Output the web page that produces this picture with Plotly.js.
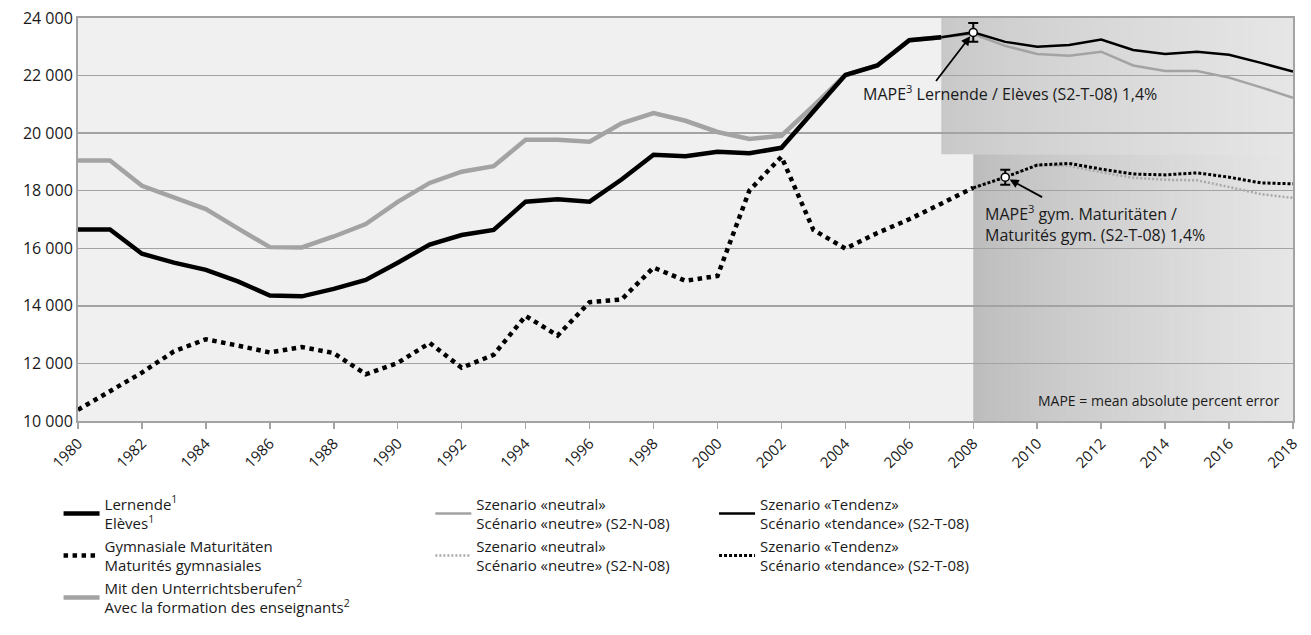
<!DOCTYPE html>
<html>
<head>
<meta charset="utf-8">
<script src="https://cdn.plot.ly/plotly-3.0.1.min.js"></script>
<style>body{margin:0;background:#fff}#chart{width:1311px;height:635px}</style>
</head>
<body>
<div id="chart"></div>
<script>
// ---- data ----
const yearsHist = [1980,1981,1982,1983,1984,1985,1986,1987,1988,1989,1990,1991,1992,1993,1994,1995,1996,1997,1998,1999,2000,2001,2002,2003,2004,2005,2006,2007];
const lernende = [16650,16650,15810,15500,15250,14850,14360,14330,14590,14900,15500,16130,16460,16640,17620,17700,17620,18390,19250,19200,19350,19300,19490,20770,22020,22350,23230,23330];
const mitUnterricht = [19050,19050,18170,17750,17360,16690,16040,16030,16410,16840,17610,18270,18660,18850,19770,19770,19700,20340,20700,20430,20040,19800,19910,20950,22020,22350,23230,23330];
const yearsMat = [1980,1981,1982,1983,1984,1985,1986,1987,1988,1989,1990,1991,1992,1993,1994,1995,1996,1997,1998,1999,2000,2001,2002,2003,2004,2005,2006,2007,2008];
const maturitaeten = [10390,11050,11680,12420,12840,12620,12380,12570,12360,11620,12020,12710,11850,12300,13650,12970,14130,14220,15330,14870,15040,18010,19180,16640,15990,16530,17010,17550,18100];
const yearsScenL = [2007,2008,2009,2010,2011,2012,2013,2014,2015,2016,2017,2018];
const lernNeutral = [23330,23440,23030,22750,22690,22830,22350,22160,22160,21930,21590,21230];
const lernTendenz = [23330,23500,23170,23000,23060,23250,22890,22750,22830,22720,22440,22140];
const yearsScenM = [2008,2009,2010,2011,2012,2013,2014,2015,2016,2017,2018];
const matNeutral = [18100,18470,18890,18870,18640,18450,18380,18360,18130,17880,17750];
const matTendenz = [18100,18470,18890,18950,18750,18580,18550,18620,18470,18270,18240];
const mapeYears = [2008, 2009];
const mapeValues = [23500, 18470];
const mapePercent = 1.4;
const xTicks = [1980,1982,1984,1986,1988,1990,1992,1994,1996,1998,2000,2002,2004,2006,2008,2010,2012,2014,2016,2018];
const yTicks = [10000,12000,14000,16000,18000,20000,22000,24000];

const FONT = '"Open Sans", "DejaVu Sans", sans-serif';

const traces = [
  {x: yearsHist, y: mitUnterricht, type:'scatter', mode:'lines', name:'Mit den Unterrichtsberufen<sup>2</sup><br>Avec la formation des enseignants<sup>2</sup>',
   line:{color:'#a3a3a3', width:4.5}, legend:'legend', legendrank:3},
  {x: yearsHist, y: lernende, type:'scatter', mode:'lines', name:'Lernende<sup>1</sup><br>Elèves<sup>1</sup>',
   line:{color:'#000', width:4.5}, legend:'legend', legendrank:1},
  {x: yearsMat, y: maturitaeten, type:'scatter', mode:'lines', name:'Gymnasiale Maturitäten<br>Maturités gymnasiales',
   line:{color:'#000', width:4.5, dash:'dot'}, legend:'legend', legendrank:2},
  {x: yearsScenL, y: lernNeutral, type:'scatter', mode:'lines', name:'Szenario «neutral»<br>Scénario «neutre» (S2-N-08)',
   line:{color:'#a3a3a3', width:2.5}, legend:'legend2', legendrank:1},
  {x: yearsScenM, y: matNeutral, type:'scatter', mode:'lines', name:'Szenario «neutral»<br>Scénario «neutre» (S2-N-08)',
   line:{color:'#a8a8a8', width:2.5, dash:'2px,2px'}, legend:'legend2', legendrank:2},
  {x: yearsScenL, y: lernTendenz, type:'scatter', mode:'lines', name:'Szenario «Tendenz»<br>Scénario «tendance» (S2-T-08)',
   line:{color:'#000', width:2.5}, legend:'legend3', legendrank:1},
  {x: yearsScenM, y: matTendenz, type:'scatter', mode:'lines', name:'Szenario «Tendenz»<br>Scénario «tendance» (S2-T-08)',
   line:{color:'#000', width:3, dash:'3px,2px'}, legend:'legend3', legendrank:2},
  {x: mapeYears, y: mapeValues, type:'scatter', mode:'markers', showlegend:false,
   marker:{color:'#fff', size:8, line:{color:'#000', width:1.5}},
   error_y:{type:'percent', value:mapePercent, color:'#000', thickness:2, width:5}}
];

// gradient shading via thin stripes below gridlines
function hexToRgb(h){h=h.replace('#','');return [0,2,4].map(i=>parseInt(h.substr(i,2),16));}
function stripes(x0,x1,y0,y1,c0,c1,n){
  const a=hexToRgb(c0), b=hexToRgb(c1), out=[];
  for(let i=0;i<n;i++){
    const t=i/(n-1);
    const c=a.map((v,k)=>Math.round(v+(b[k]-v)*Math.pow(t,0.8)));
    const xa=x0+(x1-x0)*i/n, xb=x0+(x1-x0)*(i+1)/n+0.02;
    out.push({type:'rect', layer:'below', xref:'x', yref:'y', x0:xa, x1:Math.min(xb,x1), y0:y0, y1:y1,
      fillcolor:`rgb(${c[0]},${c[1]},${c[2]})`, line:{width:0}});
  }
  return out;
}
const shapes = [].concat(
  stripes(2007, 2018, 19270, 24000, '#c8c8c8', '#e6e6e6', 90),
  stripes(2008, 2018, 10000, 19270, '#bcbcbc', '#e6e6e6', 90)
);

const legendBase = {y:-0.165, xanchor:'left', yanchor:'top', orientation:'v', bgcolor:'rgba(0,0,0,0)',
  font:{size:15, family:FONT}, itemwidth:36};

const layout = {
  width:1311, height:635,
  margin:{l:78, r:18, t:18, b:208},
  paper_bgcolor:'#fff', plot_bgcolor:'#eff0ef',
  font:{family:FONT, size:15, color:'#1a1a1a'},
  separators:', ',
  showlegend:true,
  xaxis:{range:[1980,2018], tickvals:xTicks, ticktext:xTicks.map(String), tickangle:-45,
    showgrid:false, showline:true, linecolor:'#a3a3a3', linewidth:2, mirror:true,
    ticks:'outside', ticklen:6, tickcolor:'#a3a3a3', tickwidth:1.5,
    tickfont:{size:15, family:FONT}, zeroline:false, fixedrange:true},
  yaxis:{range:[10000,24000], tickvals:yTicks, tickformat:',d',
    showgrid:true, gridcolor:'#a3a3a3', gridwidth:1.5,
    showline:true, linecolor:'#a3a3a3', linewidth:2, mirror:true,
    ticks:'', tickfont:{size:16, family:FONT}, zeroline:false, fixedrange:true},
  legend:Object.assign({x:-0.016}, legendBase),
  legend2:Object.assign({x:0.29}, legendBase),
  legend3:Object.assign({x:0.5235}, legendBase),
  shapes: shapes,
  annotations:[
    {x:2008, y:23500, xref:'x', yref:'y', ax:2006.8, ay:21760, axref:'x', ayref:'y', text:'',
     showarrow:true, arrowhead:2, arrowsize:1, arrowwidth:1.8, arrowcolor:'#000', standoff:5},
    {x:2009, y:18470, xref:'x', yref:'y', ax:2010.2, ay:17750, axref:'x', ayref:'y', text:'',
     showarrow:true, arrowhead:2, arrowsize:1, arrowwidth:1.8, arrowcolor:'#000', standoff:5},
    {x:2004.5, y:21380, xref:'x', yref:'y', xanchor:'left', yanchor:'middle', showarrow:false,
     text:'MAPE<sup>3</sup> Lernende / Elèves (S2-T-08) 1,4%', font:{size:16, family:FONT, color:'#1a1a1a'}},
    {x:2008.32, y:16870, xref:'x', yref:'y', xanchor:'left', yanchor:'middle', showarrow:false, align:'left',
     text:'MAPE<sup>3</sup> gym. Maturitäten /<br>Maturités gym. (S2-T-08) 1,4%', font:{size:16, family:FONT, color:'#1a1a1a'}},
    {x:0.99, y:0.052, xref:'paper', yref:'paper', xanchor:'right', yanchor:'middle', showarrow:false,
     text:'MAPE = mean absolute percent error', font:{size:14, family:FONT, color:'#1a1a1a'}}
  ]
};

Plotly.newPlot('chart', traces, layout, {displayModeBar:false, staticPlot:true});
</script>
</body>
</html>
